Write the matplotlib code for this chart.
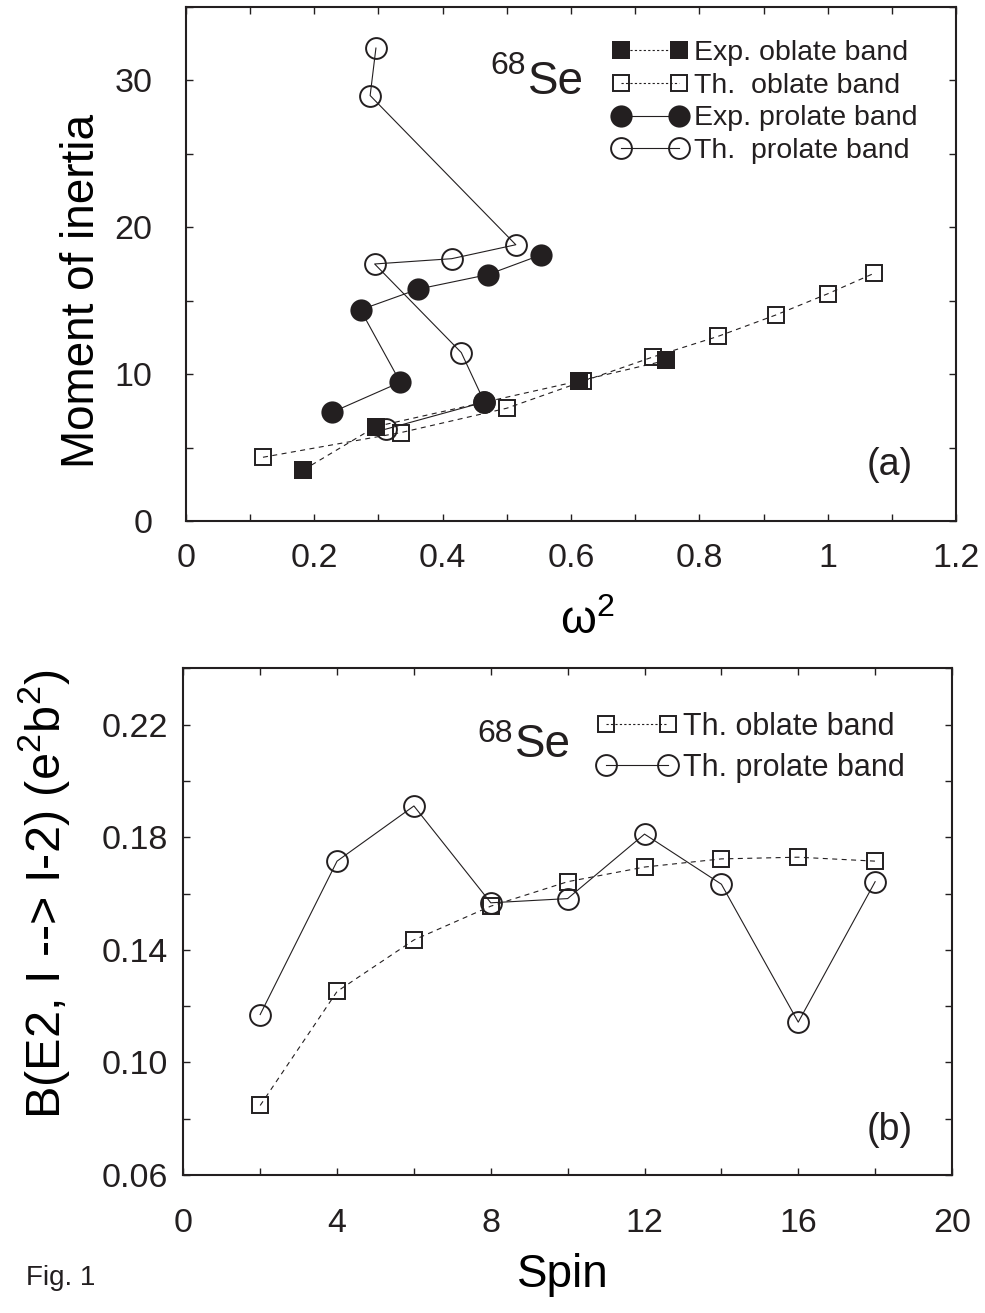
import matplotlib
matplotlib.use("Agg")
import matplotlib.pyplot as plt
from matplotlib import font_manager
from matplotlib.lines import Line2D

# ---- panel (a): moment of inertia vs omega^2 ----
exp_oblate_w2 = [0.183, 0.296, 0.613, 0.748]
exp_oblate_moi = [3.48, 6.43, 9.54, 10.93]

th_oblate_w2 = [0.120, 0.335, 0.500, 0.618, 0.727, 0.829, 0.920, 1.000, 1.072]
th_oblate_moi = [4.34, 6.02, 7.68, 9.50, 11.16, 12.57, 14.04, 15.47, 16.86]

exp_prolate_w2 = [0.227, 0.334, 0.272, 0.362, 0.470, 0.554]
exp_prolate_moi = [7.39, 9.45, 14.38, 15.79, 16.77, 18.13]
exp_prolate_single_w2 = [0.464]
exp_prolate_single_moi = [8.09]

th_prolate_w2 = [0.296, 0.287, 0.514, 0.414, 0.294, 0.429, 0.465, 0.311]
th_prolate_moi = [32.2, 28.97, 18.81, 17.86, 17.50, 11.47, 8.10, 6.25]

xticks_a = [0, 0.2, 0.4, 0.6, 0.8, 1.0, 1.2]
xticklabels_a = ["0", "0.2", "0.4", "0.6", "0.8", "1", "1.2"]
yticks_a = [0, 10, 20, 30]

# ---- panel (b): B(E2) vs spin ----
spin = [2, 4, 6, 8, 10, 12, 14, 16, 18]
be2_th_oblate = [0.0847, 0.1252, 0.1435, 0.1555, 0.1642, 0.1694, 0.1723, 0.1729, 0.1715]
be2_th_prolate = [0.1170, 0.1715, 0.1911, 0.1567, 0.1582, 0.1811, 0.1633, 0.1143, 0.1642]

xticks_b = [0, 4, 8, 12, 16, 20]
yticks_b = [0.06, 0.10, 0.14, 0.18, 0.22]
yticklabels_b = ["0.06", "0.10", "0.14", "0.18", "0.22"]

# fonts: narrow sans for axis text if present
names = {f.name for f in font_manager.fontManager.ttflist}
narrow = "Liberation Sans Narrow" in names
base = "Liberation Sans Narrow" if narrow else "Liberation Sans"
plt.rcParams["font.family"] = [base, "Liberation Sans", "DejaVu Sans"]
plt.rcParams["mathtext.fontset"] = "custom"
plt.rcParams["mathtext.rm"] = base
plt.rcParams["mathtext.it"] = base
plt.rcParams["mathtext.default"] = "regular"

tick_fs = 28 if narrow else 24.5
big = 37 if narrow else 32
leg_prop = {"family": "Liberation Sans"}

ink = "#231f20"
dash = (0, (4.5, 4))
ms_sq, ms_ci, mew = 11.5, 15, 1.4

fig = plt.figure(figsize=(9.85, 13.13), dpi=100)
ax1 = fig.add_axes([0.1888, 0.6032, 0.7818, 0.3915])
ax2 = fig.add_axes([0.1861, 0.1051, 0.7804, 0.3859])


def style_axes(ax):
    for s in ax.spines.values():
        s.set_linewidth(1.5)
        s.set_color(ink)
    ax.tick_params(which="both", direction="in", top=True, right=True,
                   length=5, width=1.0, color=ink, labelsize=tick_fs,
                   labelcolor=ink)


# panel (a)
ax1.plot(th_oblate_w2, th_oblate_moi, ls=dash, lw=0.8, color=ink,
         marker="s", ms=ms_sq, mfc="none", mec=ink, mew=mew)
ax1.plot(exp_oblate_w2, exp_oblate_moi, ls=dash, lw=0.8, color=ink,
         marker="s", ms=ms_sq + 1.5, mfc=ink, mec=ink, mew=0)
ax1.plot(exp_prolate_w2, exp_prolate_moi, ls="-", lw=0.8, color=ink,
         marker="o", ms=ms_ci + 1, mfc=ink, mec=ink, mew=0)
ax1.plot(exp_prolate_single_w2, exp_prolate_single_moi, ls="none",
         marker="o", ms=ms_ci + 1, mfc=ink, mec=ink, mew=0)
ax1.plot(th_prolate_w2, th_prolate_moi, ls="-", lw=0.8, color=ink,
         marker="o", ms=ms_ci, mfc="none", mec=ink, mew=mew)

ax1.set_xlim(0, 1.2)
ax1.set_ylim(0, 35)
ax1.set_xticks(xticks_a)
ax1.set_xticklabels(xticklabels_a)
ax1.set_xticks([0.1, 0.3, 0.5, 0.7, 0.9, 1.1], minor=True)
ax1.set_yticks(yticks_a)
ax1.set_yticks([5, 15, 25, 35], minor=True)
style_axes(ax1)
ax1.tick_params(axis="x", pad=16)
ax1.tick_params(axis="y", pad=24)

ax1.set_xlabel("ω$^{2}$", fontsize=big + 1, family="Liberation Sans")
ax1.xaxis.set_label_coords(0.521, -0.197)
ax1.xaxis.label.set_va("center")
ax1.set_ylabel("Moment of inertia", fontsize=33, family="Liberation Sans")
ax1.yaxis.set_label_coords(-0.135, 0.447)
ax1.yaxis.label.set_va("center")

ax1.text(0.444, 0.831, "Se", transform=ax1.transAxes, fontsize=big + 1,
         ha="left", va="baseline", color=ink)
ax1.text(0.442, 0.870, "68", transform=ax1.transAxes, fontsize=23,
         ha="right", va="baseline", color=ink)
ax1.text(0.914, 0.109, "(a)", transform=ax1.transAxes, fontsize=27,
         ha="center", va="center", color=ink)

h_a = [
    Line2D([], [], ls=(0, (2, 2)), lw=0.8, color=ink, marker="s", ms=ms_sq + 1.5,
           mfc=ink, mec=ink, mew=0),
    Line2D([], [], ls=(0, (2, 2)), lw=0.8, color=ink, marker="s", ms=ms_sq,
           mfc="none", mec=ink, mew=mew),
    Line2D([], [], ls="-", lw=0.8, color=ink, marker="o", ms=ms_ci + 1,
           mfc=ink, mec=ink, mew=0),
    Line2D([], [], ls="-", lw=0.8, color=ink, marker="o", ms=ms_ci,
           mfc="none", mec=ink, mew=mew),
]
labels_a = ["Exp. oblate band", "Th.  oblate band",
            "Exp. prolate band", "Th.  prolate band"]
leg = ax1.legend(h_a, labels_a, loc="upper left", bbox_to_anchor=(0.554, 0.935),
                 frameon=False, numpoints=2, handlelength=2.65,
                 handletextpad=0.2, labelspacing=0.23, borderpad=0,
                 borderaxespad=0, prop=dict(leg_prop, size=20.5))
for t in leg.get_texts():
    t.set_color(ink)

# panel (b)
ax2.plot(spin, be2_th_oblate, ls=dash, lw=0.8, color=ink,
         marker="s", ms=ms_sq, mfc="none", mec=ink, mew=mew)
ax2.plot(spin, be2_th_prolate, ls="-", lw=0.8, color=ink,
         marker="o", ms=ms_ci, mfc="none", mec=ink, mew=mew)

ax2.set_xlim(0, 20)
ax2.set_ylim(0.06, 0.24)
ax2.set_xticks(xticks_b)
ax2.set_xticks([2, 6, 10, 14, 18], minor=True)
ax2.set_yticks(yticks_b)
ax2.set_yticklabels(yticklabels_b)
ax2.set_yticks([0.08, 0.12, 0.16, 0.20, 0.24], minor=True)
style_axes(ax2)
ax2.tick_params(axis="x", pad=24)
ax2.tick_params(axis="y", pad=11)

ax2.set_xlabel("Spin", fontsize=big + 1)
ax2.xaxis.set_label_coords(0.494, -0.197)
ax2.xaxis.label.set_va("center")
ax2.set_ylabel("B(E2, I --> I-2) (e$^{2}$b$^{2}$)", fontsize=35,
               family="Liberation Sans")
ax2.yaxis.set_label_coords(-0.181, 0.554)
ax2.yaxis.label.set_va("center")

ax2.text(0.432, 0.824, "Se", transform=ax2.transAxes, fontsize=big + 1,
         ha="left", va="baseline", color=ink)
ax2.text(0.429, 0.855, "68", transform=ax2.transAxes, fontsize=23,
         ha="right", va="baseline", color=ink)
ax2.text(0.919, 0.089, "(b)", transform=ax2.transAxes, fontsize=27,
         ha="center", va="center", color=ink)

h_b = [
    Line2D([], [], ls=(0, (2, 2)), lw=0.8, color=ink, marker="s", ms=ms_sq,
           mfc="none", mec=ink, mew=mew),
    Line2D([], [], ls="-", lw=0.8, color=ink, marker="o", ms=ms_ci,
           mfc="none", mec=ink, mew=mew),
]
leg2 = ax2.legend(h_b, ["Th. oblate band", "Th. prolate band"], loc="upper left",
                  bbox_to_anchor=(0.538, 0.914), frameon=False, numpoints=2,
                  handlelength=2.63, handletextpad=0.19, labelspacing=0.36,
                  borderpad=0, borderaxespad=0, prop=dict(leg_prop, size=22))
for t in leg2.get_texts():
    t.set_color(ink)

fig.text(61 / 985, 1 - 1278 / 1313, "Fig. 1", fontsize=22 if narrow else 20,
         ha="center", va="center", color=ink)

fig.savefig("out.png", dpi=100)
